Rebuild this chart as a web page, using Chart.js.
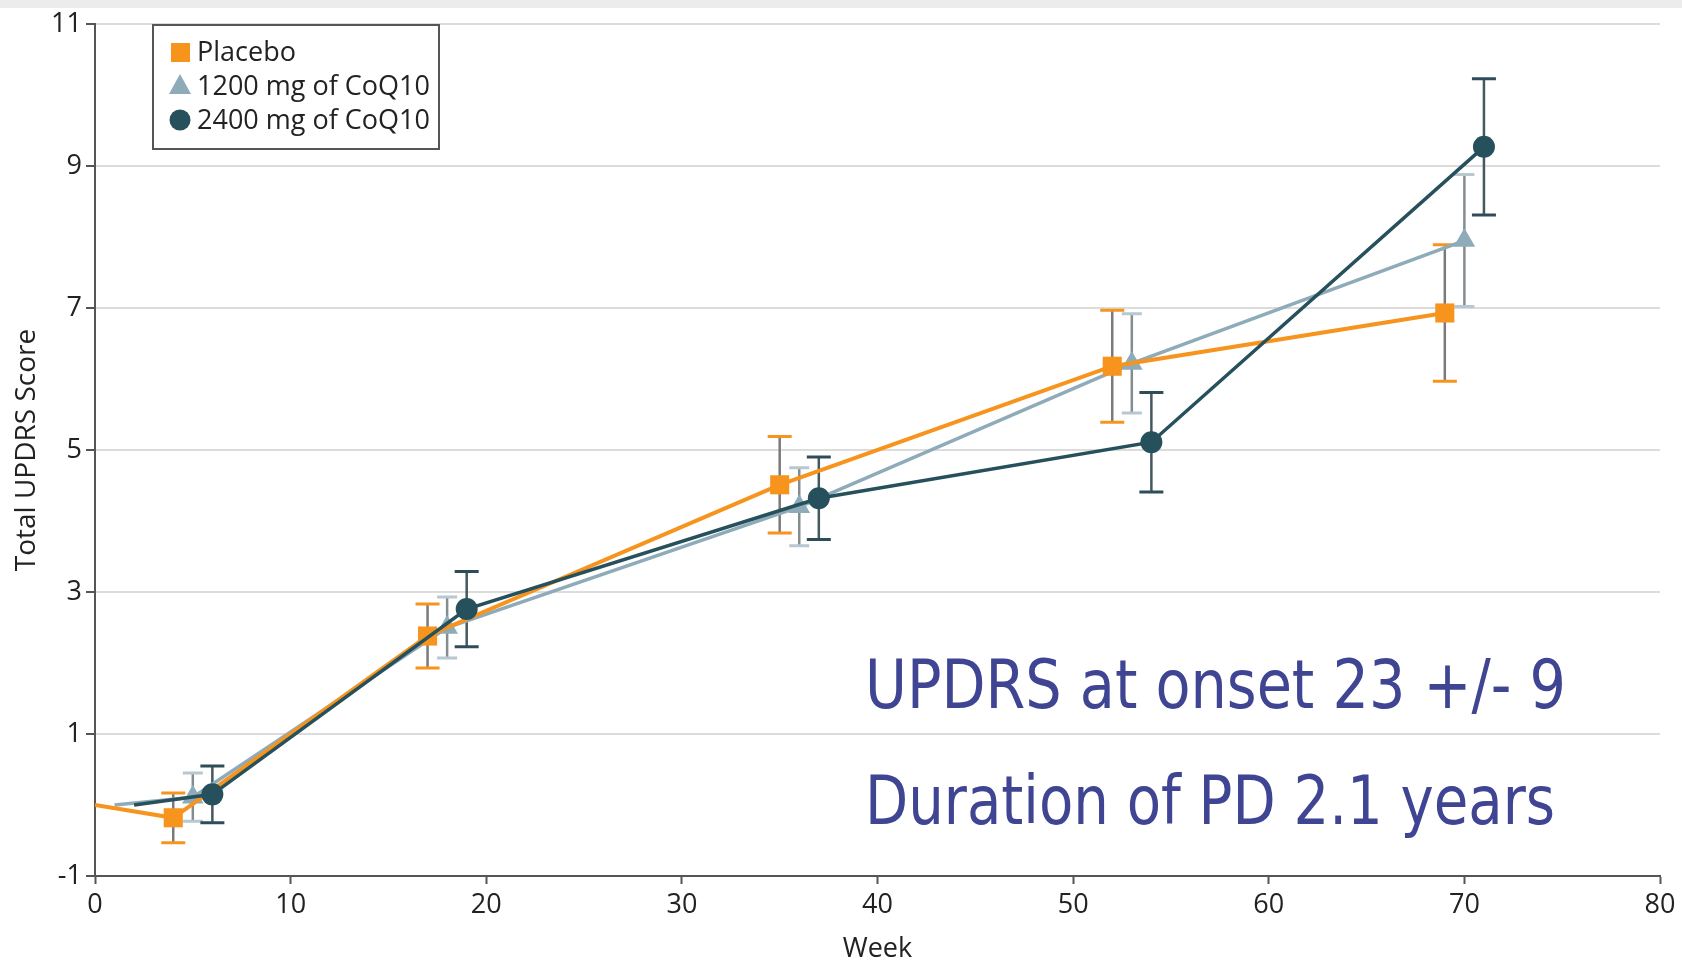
<!DOCTYPE html>
<html>
<head>
<meta charset="utf-8">
<script src="https://cdn.jsdelivr.net/npm/chart.js@4.4.0/dist/chart.umd.min.js"></script>
<style>
  html, body { margin: 0; padding: 0; background: #fff; }
  #wrap { width: 1682px; height: 966px; position: relative; }
</style>
</head>
<body>
<div id="wrap"><canvas id="lineChart" width="1682" height="966"></canvas></div>
<script>
// weeks are dodged by one week per group, as in the figure
const placeboWeeks = [0, 4, 17, 35, 52, 69];
const placeboScore = [0, -0.18, 2.38, 4.51, 6.18, 6.93];
const placeboErr = [null, 0.35, 0.45, 0.68, 0.79, 0.96];

const dose1200Weeks = [1, 5, 18, 36, 53, 70];
const dose1200Score = [0, 0.11, 2.5, 4.2, 6.22, 7.95];
const dose1200Err = [null, 0.34, 0.43, 0.55, 0.7, 0.93];

const dose2400Weeks = [2, 6, 19, 37, 54, 71];
const dose2400Score = [0, 0.15, 2.76, 4.32, 5.11, 9.27];
const dose2400Err = [null, 0.4, 0.53, 0.58, 0.7, 0.96];

const seriesLabels = ['Placebo', '1200 mg of CoQ10', '2400 mg of CoQ10'];
const xTicks = [0, 10, 20, 30, 40, 50, 60, 70, 80];
const yTicks = [-1, 1, 3, 5, 7, 9, 11];
const noteLines = ['UPDRS at onset 23 +/- 9', 'Duration of PD 2.1 years'];

const ORANGE = '#f7941e', LIGHT = '#8eabb9', DARK = '#26505c';
const FONT = "'Open Sans', 'DejaVu Sans', sans-serif";

const toPoints = (xs, ys) => xs.map((x, i) => ({x: x, y: ys[i]}));
// first point of every series is the baseline, no marker there
const radii = (r) => [0, r, r, r, r, r];

const errorStyle = [
    {err: placeboErr, stem: '#7a7a7a', cap: ORANGE, half: 12},
    {err: dose1200Err, stem: '#858c90', cap: '#b7c8d0', half: 10},
    {err: dose2400Err, stem: '#44585f', cap: '#2e4d58', half: 12}
];

const errorBars = {
    id: 'errorBars',
    beforeDatasetsDraw(chart) {
        const ctx = chart.ctx;
        const xs = chart.scales.x, ys = chart.scales.y;
        ctx.save();
        chart.data.datasets.forEach((ds, d) => {
            const st = errorStyle[d];
            ds.data.forEach((p, i) => {
                const e = st.err[i];
                if (e == null) return;
                const px = xs.getPixelForValue(p.x);
                const top = ys.getPixelForValue(p.y + e);
                const bot = ys.getPixelForValue(p.y - e);
                ctx.lineWidth = 2.5;
                ctx.strokeStyle = st.stem;
                ctx.beginPath();
                ctx.moveTo(px, top);
                ctx.lineTo(px, bot);
                ctx.stroke();
                ctx.lineWidth = 3;
                ctx.strokeStyle = st.cap;
                ctx.beginPath();
                ctx.moveTo(px - st.half, top);
                ctx.lineTo(px + st.half, top);
                ctx.moveTo(px - st.half, bot);
                ctx.lineTo(px + st.half, bot);
                ctx.stroke();
            });
        });
        ctx.restore();
    }
};

const decorations = {
    id: 'decorations',
    beforeDraw(chart) {
        const ctx = chart.ctx;
        ctx.save();
        ctx.fillStyle = '#ececec';
        ctx.fillRect(0, 0, chart.width, 8);
        ctx.restore();
    },
    afterDraw(chart) {
        const ctx = chart.ctx;
        ctx.save();
        // legend box
        ctx.fillStyle = '#fff';
        ctx.fillRect(153, 25, 286, 124);
        ctx.strokeStyle = '#555';
        ctx.lineWidth = 2;
        ctx.strokeRect(153, 25, 286, 124);
        const rowY = [52, 86, 120];
        chart.data.datasets.forEach((ds, d) => {
            const y = rowY[d];
            ctx.fillStyle = ds.pointBackgroundColor;
            ctx.beginPath();
            if (d === 0) {
                ctx.rect(171, y - 9, 19, 19);
            } else if (d === 1) {
                ctx.moveTo(180, y - 12);
                ctx.lineTo(191, y + 8);
                ctx.lineTo(169, y + 8);
                ctx.closePath();
            } else {
                ctx.arc(180, y, 10.5, 0, Math.PI * 2);
            }
            ctx.fill();
            ctx.fillStyle = '#222';
            ctx.font = '27px ' + FONT;
            ctx.textBaseline = 'middle';
            ctx.fillText(ds.label, 197, y + 1);
        });
        // note text
        ctx.fillStyle = '#3f4592';
        ctx.font = "67px 'Liberation Sans Narrow', 'DejaVu Sans Condensed', sans-serif";
        ctx.textBaseline = 'alphabetic';
        const target = [701, 690];
        const baseY = [708, 824];
        noteLines.forEach((t, i) => {
            const w = ctx.measureText(t).width;
            ctx.save();
            ctx.translate(865, baseY[i]);
            ctx.scale(target[i] / w, 1);
            ctx.fillText(t, 0, 0);
            ctx.restore();
        });
        ctx.restore();
    }
};

new Chart(
    document.getElementById('lineChart'),
    {
        type: 'line',
        data: {
            datasets: [
                {
                    label: seriesLabels[0],
                    data: toPoints(placeboWeeks, placeboScore),
                    borderColor: ORANGE,
                    backgroundColor: ORANGE,
                    pointBackgroundColor: ORANGE,
                    pointBorderWidth: 0,
                    pointStyle: 'rect',
                    pointRadius: radii(13.5),
                    borderWidth: 4,
                    order: 2
                },
                {
                    label: seriesLabels[1],
                    data: toPoints(dose1200Weeks, dose1200Score),
                    borderColor: LIGHT,
                    backgroundColor: LIGHT,
                    pointBackgroundColor: LIGHT,
                    pointBorderWidth: 0,
                    pointStyle: 'triangle',
                    pointRadius: radii(12.5),
                    borderWidth: 3.5,
                    order: 3
                },
                {
                    label: seriesLabels[2],
                    data: toPoints(dose2400Weeks, dose2400Score),
                    borderColor: DARK,
                    backgroundColor: DARK,
                    pointBackgroundColor: DARK,
                    pointBorderWidth: 0,
                    pointStyle: 'circle',
                    pointRadius: radii(11),
                    borderWidth: 3.5,
                    order: 1
                }
            ]
        },
        options: {
            responsive: false,
            animation: false,
            layout: {padding: {top: 24, right: 22, left: 0, bottom: 0}},
            plugins: {legend: {display: false}, tooltip: {enabled: false}},
            scales: {
                x: {
                    type: 'linear',
                    min: 0,
                    max: 80,
                    afterBuildTicks: (s) => { s.ticks = xTicks.map(v => ({value: v})); },
                    afterFit: (s) => { s.height = 90; },
                    grid: {drawOnChartArea: false, tickLength: 8, tickColor: '#555', tickWidth: 2},
                    border: {color: '#555', width: 2},
                    ticks: {color: '#222', font: {family: FONT, size: 27}, padding: 5, maxRotation: 0},
                    title: {display: true, text: 'Week', color: '#222', font: {family: FONT, size: 27}, padding: {top: 0, bottom: 0}}
                },
                y: {
                    min: -1,
                    max: 11,
                    afterBuildTicks: (s) => { s.ticks = yTicks.map(v => ({value: v})); },
                    afterFit: (s) => { s.width = 95; },
                    grid: {color: '#dcdcdc', lineWidth: 2, tickLength: 9, tickColor: '#555', tickWidth: 2},
                    border: {color: '#555', width: 2},
                    ticks: {color: '#222', font: {family: FONT, size: 27}, padding: 4},
                    title: {display: true, text: 'Total UPDRS Score', color: '#222', font: {family: FONT, size: 28}, padding: {top: 10, bottom: 0}}
                }
            }
        },
        plugins: [errorBars, decorations]
    }
);
</script>
</body>
</html>
